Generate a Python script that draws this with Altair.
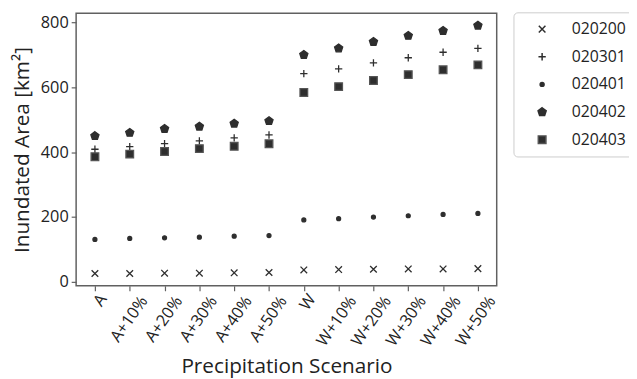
import altair as alt
import pandas as pd

scenarios = ["A", "A+10%", "A+20%", "A+30%", "A+40%", "A+50%",
             "W", "W+10%", "W+20%", "W+30%", "W+40%", "W+50%"]
series_names = ["020200", "020301", "020401", "020402", "020403"]

s020200 = [26, 26, 27, 27, 28, 29, 37, 38, 39, 40, 40, 41]
s020301 = [409, 417, 426, 435, 444, 453, 642, 657, 675, 691, 708, 720]
s020401 = [131, 134, 136, 138, 141, 143, 191, 195, 200, 204, 208, 211]
s020402 = [450, 460, 472, 479, 488, 496, 700, 720, 740, 759, 774, 790]
s020403 = [386, 394, 402, 411, 418, 426, 584, 602, 621, 639, 654, 669]

all_series = [s020200, s020301, s020401, s020402, s020403]
rows = []
for name, vals in zip(series_names, all_series):
    for sc, v in zip(scenarios, vals):
        rows.append({"scenario": sc, "area": v, "series": name})
df = pd.DataFrame(rows)

ink = "#2e2e2e"
x_path = "M-1,-1L1,1M-1,1L1,-1"
plus_path = "M-1,0L1,0M0,-1L0,1"
pent_path = "M0,-1L0.951,-0.309L0.588,0.809L-0.588,0.809L-0.951,-0.309Z"

font = "Open Sans"
short_test = "datum.value == 'A' || datum.value == 'W'"

chart = alt.Chart(df).mark_point(filled=True, strokeWidth=1.3, opacity=1).encode(
    x=alt.X("scenario:N", sort=scenarios,
            scale=alt.Scale(type="point", padding=0.54),
            axis=alt.Axis(title="Precipitation Scenario", labelAngle=305,
                          labelAlign="right", labelBaseline="middle",
                          labelPadding={"condition": {"test": short_test, "value": 5}, "value": 7},
                          labelOffset={"condition": {"test": short_test, "value": 8}, "value": 14},
                          titlePadding=7)),
    y=alt.Y("area:Q", scale=alt.Scale(domain=[-12, 828], nice=False, zero=False),
            axis=alt.Axis(title="Inundated Area [km²]", values=[0, 200, 400, 600, 800],
                          titlePadding=8)),
    shape=alt.Shape("series:N", sort=series_names,
                    scale=alt.Scale(domain=series_names,
                                    range=[x_path, plus_path, "circle", pent_path, "square"]),
                    legend=alt.Legend(title=None)),
    fill=alt.Fill("series:N", sort=series_names,
                  scale=alt.Scale(domain=series_names,
                                  range=["transparent", "transparent", ink, ink, ink]),
                  legend=alt.Legend(title=None)),
    stroke=alt.Stroke("series:N", sort=series_names,
                      scale=alt.Scale(domain=series_names,
                                      range=[ink, ink, ink, ink, "#555555"]),
                      legend=alt.Legend(title=None)),
    size=alt.Size("series:N", sort=series_names,
                  scale=alt.Scale(type="ordinal", domain=series_names,
                                  range=[45, 55, 16, 75, 60]),
                  legend=alt.Legend(title=None)),
).properties(
    width=426, height=276,
    autosize=alt.AutoSizeParams(type="none"),
    padding={"left": 69, "top": 3, "right": 134, "bottom": 92},
).configure_view(
    stroke="#606060", strokeWidth=1.5
).configure_axis(
    domain=False, grid=False, tickColor="#606060", tickSize=5, tickWidth=1.2,
    labelFont=font, titleFont=font, labelFontSize=16.5, titleFontSize=21,
    labelColor="#222222", titleColor="#222222", titleFontWeight="normal",
    labelPadding=3,
).configure_legend(
    orient="none", legendX=443, legendY=-1,
    labelFont=font, labelFontSize=16, labelColor="#222222",
    strokeColor="#cccccc", fillColor="white", cornerRadius=4, padding=9,
    rowPadding=12, symbolOffset=12, labelOffset=22,
)

chart.save("out.html", embed_options={"renderer": "svg", "actions": False})
